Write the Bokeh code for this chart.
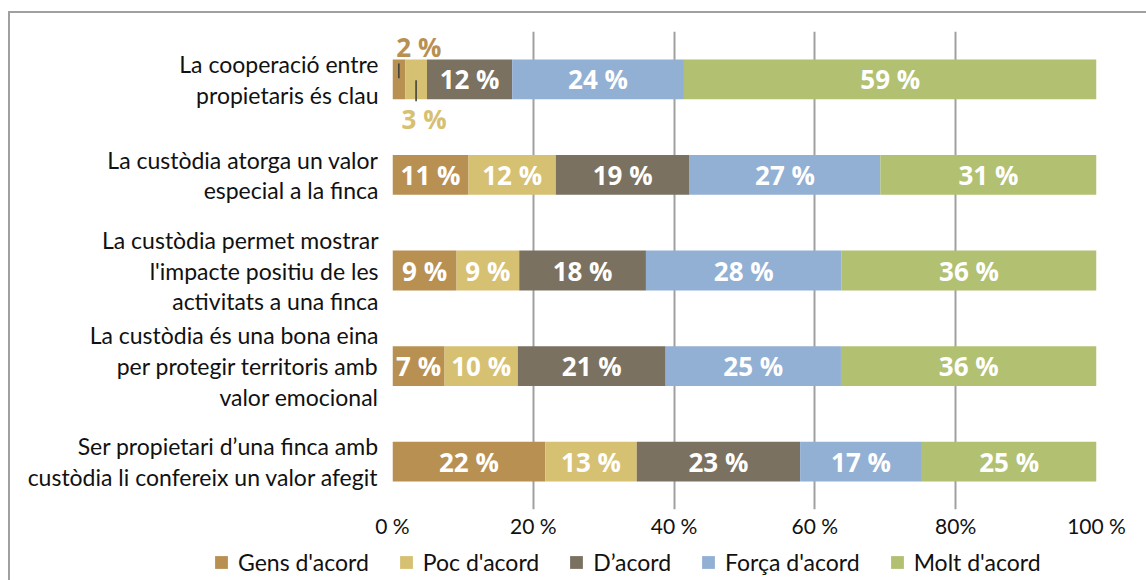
from bokeh.plotting import figure
from bokeh.layouts import column, row
from bokeh.models import ColumnDataSource, Range1d, FixedTicker, Legend, LegendItem
from bokeh.core.properties import value
from bokeh.embed import file_html
from bokeh.resources import INLINE

# ---------------- data ----------------
categories = [
    "La cooperació entre\npropietaris és clau",
    "La custòdia atorga un valor\nespecial a la finca",
    "La custòdia permet mostrar\nl'impacte positiu de les\nactivitats a una finca",
    "La custòdia és una bona eina\nper protegir territoris amb\nvalor emocional",
    "Ser propietari d’una finca amb\ncustòdia li confereix un valor afegit",
]
series = ["Gens d'acord", "Poc d'acord", "D’acord", "Força d'acord", "Molt d'acord"]
colors = ["#B89052", "#D6C072", "#7A7160", "#92AFD4", "#B2C072"]

gens = [1.8, 10.8, 9.1, 7.4, 21.7]
poc = [3.1, 12.4, 8.9, 10.4, 13.0]
dacord = [12.1, 19.0, 18.0, 21.0, 23.2]
forca = [24.4, 27.1, 27.8, 24.9, 17.3]
molt = [58.6, 30.7, 36.2, 36.3, 24.8]

x_ticks = [0, 20, 40, 60, 80, 100]
x_tick_labels = ["0 %", "20 %", "40 %", "60 %", "80%", "100 %"]

# ---------------- build ----------------
keys = ["gens", "poc", "dacord", "forca", "molt"]
values = [gens, poc, dacord, forca, molt]
n = len(categories)
ypos = [n - 1 - i for i in range(n)]  # first category on top

src = ColumnDataSource(dict(y=ypos, **{k: v for k, v in zip(keys, values)}))

FONT = "Lato"
BAR_H = 0.416
MAIN_H = 540
LEG_H = 40

p = figure(width=1146, height=MAIN_H, output_backend="svg", toolbar_location=None,
           x_range=Range1d(0, 100), y_range=Range1d(-0.5, n - 0.5),
           min_border_left=392, min_border_right=50, min_border_top=31,
           min_border_bottom=MAIN_H - 512)
p.border_fill_color = None
p.outline_line_color = None

rends = p.hbar_stack(keys, y="y", height=BAR_H, color=colors, line_color=None, source=src)

# data labels
lx, ly, lt = [], [], []
ox, oy, ot, oc, oxo, oyo = [], [], [], [], [], []
seg_x0, seg_y0, seg_y1 = [], [], []
outside_off = {0: (20, -32, 0.166, 0.01), 1: (8, 40, -0.01, -0.229)}
for i in range(n):
    left = 0.0
    for s in range(len(keys)):
        v = values[s][i]
        cx = left + v / 2
        lab = f"{round(v)} %"
        if i == 0 and s in outside_off:
            xo, yo, a, b = outside_off[s]
            ox.append(cx); oy.append(ypos[i]); ot.append(lab); oc.append(colors[s])
            oxo.append(xo); oyo.append(yo)
            seg_x0.append(cx); seg_y0.append(ypos[i] + a); seg_y1.append(ypos[i] + b)
        else:
            lx.append(cx); ly.append(ypos[i]); lt.append(lab)
        left += v

p.text(x=lx, y=ly, text=lt, text_color="white", text_font=value("Open Sans"),
       text_font_style="bold", text_font_size="26px", text_align="center",
       text_baseline="middle")
osrc = ColumnDataSource(dict(x=ox, y=oy, text=ot, c=oc, xo=oxo, yo=oyo))
p.text(x="x", y="y", text="text", text_color="c", x_offset="xo", y_offset="yo", source=osrc,
       text_font=value("Open Sans"), text_font_style="bold", text_font_size="26px",
       text_align="center", text_baseline="middle")
p.segment(x0=seg_x0, y0=seg_y0, x1=seg_x0, y1=seg_y1, line_color="#3a3a3a", line_width=1.5)

# grid
p.ygrid.visible = False
p.xgrid.ticker = FixedTicker(ticks=x_ticks)
p.xgrid.grid_line_color = "#a0a0a0"
p.xgrid.grid_line_width = 2

# axes
xa = p.xaxis[0]
xa.ticker = FixedTicker(ticks=x_ticks)
xa.major_label_overrides = {t: l for t, l in zip(x_ticks, x_tick_labels)}
xa.axis_line_color = None
xa.major_tick_line_color = None
xa.minor_tick_line_color = None
xa.major_tick_out = 0
xa.major_tick_in = 0
xa.major_label_standoff = 3
xa.major_label_text_font = FONT
xa.major_label_text_font_size = "21px"
xa.major_label_text_color = "#111111"

ya = p.yaxis[0]
ya.ticker = FixedTicker(ticks=ypos)
ya.major_label_overrides = {y: c for y, c in zip(ypos, categories)}
ya.axis_line_color = None
ya.major_tick_line_color = None
ya.minor_tick_line_color = None
ya.major_tick_out = 0
ya.major_tick_in = 0
ya.major_label_standoff = 14
ya.major_label_text_font = FONT
ya.major_label_text_font_size = "23px"
ya.major_label_text_line_height = 1.1
ya.major_label_text_color = "#111111"
ya.major_label_text_align = "right"

# legend strip (separate small figure underneath; swatch renderers are hidden)
pl = figure(width=1146, height=LEG_H, output_backend="svg", toolbar_location=None,
            x_range=Range1d(0, 1), y_range=Range1d(0, 1),
            min_border_left=0, min_border_right=0, min_border_top=0, min_border_bottom=0)
pl.axis.visible = False
pl.grid.visible = False
pl.outline_line_color = None
pl.border_fill_color = None
pl.background_fill_color = None
leg_rends = [pl.hbar(y=[-5], right=[1], height=0.5, color=c, line_color=None, visible=False)
             for c in colors]
legend = Legend(items=[LegendItem(label=s, renderers=[r]) for s, r in zip(series, leg_rends)],
                orientation="horizontal", location=(213, 4), click_policy="none",
                glyph_width=16, glyph_height=16, label_standoff=9, spacing=29,
                padding=0, margin=0, border_line_color=None, background_fill_alpha=0,
                label_text_font=FONT, label_text_font_size="23px", label_text_color="#111111")
pl.add_layout(legend, "center")

layout = column(p, row(pl), spacing=0)
layout.styles = {
    "background": "linear-gradient(#a0a0a0,#a0a0a0) 8px 11px / 100% 2px no-repeat, "
                  "linear-gradient(#a0a0a0,#a0a0a0) 8px 11px / 2px 100% no-repeat, white"
}

open("out.html", "w").write(file_html(layout, INLINE))
